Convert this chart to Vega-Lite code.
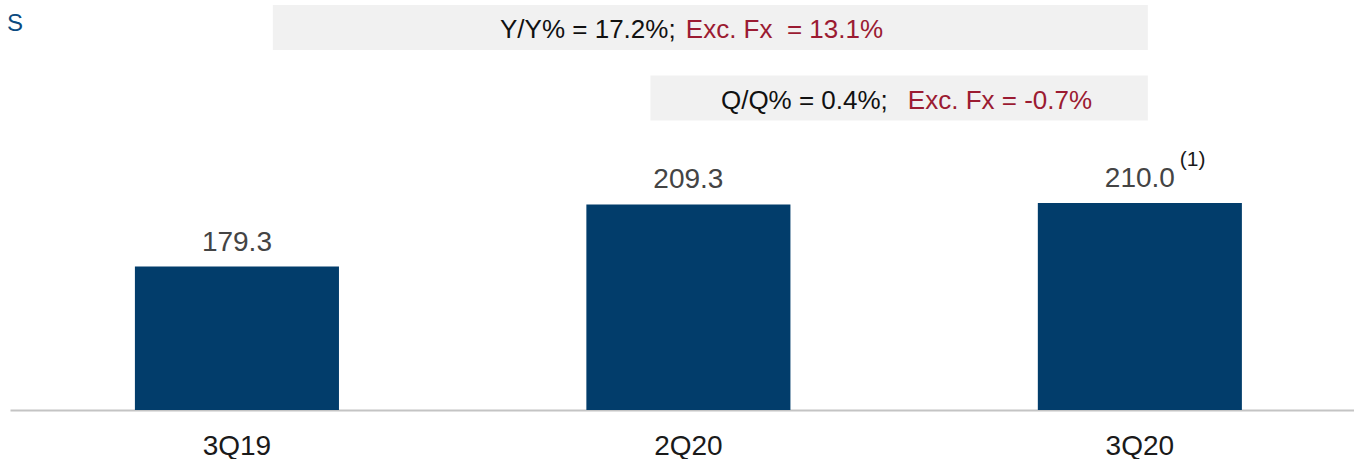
{
  "$schema": "https://vega.github.io/schema/vega-lite/v6.json",
  "width": 1344,
  "height": 410,
  "autosize": {"type": "none"},
  "padding": {"left": 10, "top": 0, "right": 0, "bottom": 49},
  "background": "white",
  "config": {
    "view": {"stroke": null},
    "font": "Liberation Sans",
    "axisX": {
      "ticks": false,
      "tickSize": 0,
      "labelPadding": 44,
      "labelBaseline": "alphabetic",
      "labelFontSize": 28,
      "labelColor": "#1a1a1a",
      "labelFont": "Liberation Sans",
      "labelAngle": 0,
      "domainColor": "#c4c4c4",
      "domainWidth": 2,
      "grid": false
    }
  },
  "title": {
    "text": "S",
    "anchor": "start",
    "orient": "top",
    "offset": -36,
    "dx": -3,
    "fontSize": 24,
    "fontWeight": "normal",
    "color": "#0b4a80",
    "font": "Liberation Sans"
  },
  "layer": [
    {
      "data": {
        "values": [
          {"q": "3Q19", "v": 179.3, "label": "179.3", "note": ""},
          {"q": "2Q20", "v": 209.3, "label": "209.3", "note": ""},
          {"q": "3Q20", "v": 210.0, "label": "210.0", "note": "(1)"}
        ]
      },
      "encoding": {
        "x": {
          "field": "q",
          "type": "nominal",
          "sort": null,
          "scale": {"domain": ["3Q19", "2Q20", "3Q20"], "paddingInner": 0.548, "paddingOuter": 0.2625, "align": 0.527},
          "axis": {"title": null}
        },
        "y": {"field": "v", "type": "quantitative", "scale": {"domain": [110, 308], "zero": false, "clamp": true}, "axis": null}
      },
      "layer": [
        {"mark": {"type": "bar", "color": "#023d6b"}},
        {"mark": {"type": "text", "baseline": "alphabetic", "dy": -16, "fontSize": 28, "color": "#444444"}, "encoding": {"text": {"field": "label"}}},
        {"mark": {"type": "text", "align": "left", "baseline": "alphabetic", "dy": -37, "fontSize": 21, "color": "#1a1a1a"},
         "encoding": {"x": {"field": "q", "type": "nominal", "sort": null, "bandPosition": 0.696, "scale": {"domain": ["3Q19", "2Q20", "3Q20"]}, "axis": {"title": null}}, "text": {"field": "note"}}}
      ]
    },
    {
      "data": {
        "values": [
          {"row": "Y/Y", "from": "3Q19", "to": "3Q20", "main": "Y/Y% = 17.2%;", "fx": "Exc. Fx\u00a0 = 13.1%"},
          {"row": "Q/Q", "from": "2Q20", "to": "3Q20", "main": "Q/Q% = 0.4%;", "fx": "Exc. Fx = -0.7%"}
        ]
      },
      "encoding": {
        "y": {"field": "row", "type": "nominal", "sort": null, "scale": {"domain": ["Y/Y", "Q/Q"], "range": [5, 120.5], "paddingInner": 0.362, "paddingOuter": 0}, "axis": null}
      },
      "layer": [
        {
          "transform": [{"filter": "datum.row === 'Y/Y'"}],
          "mark": {"type": "rect", "color": "#f1f1f1"},
          "encoding": {
            "x": {"field": "from", "type": "nominal", "sort": null, "bandPosition": 0.676, "scale": {"domain": ["3Q19", "2Q20", "3Q20"]}, "axis": {"title": null}},
            "x2": {"field": "to", "bandPosition": 0.539}
          }
        },
        {
          "transform": [{"filter": "datum.row === 'Q/Q'"}],
          "mark": {"type": "rect", "color": "#f1f1f1"},
          "encoding": {
            "x": {"field": "from", "type": "nominal", "sort": null, "bandPosition": 0.314, "scale": {"domain": ["3Q19", "2Q20", "3Q20"]}, "axis": {"title": null}},
            "x2": {"field": "to", "bandPosition": 0.539}
          }
        },
        {
          "transform": [{"filter": "datum.row === 'Y/Y'"}],
          "mark": {"type": "text", "align": "right", "baseline": "alphabetic", "dy": 11, "fontSize": 26, "color": "#111111"},
          "encoding": {
            "x": {"field": "to", "type": "nominal", "sort": null, "bandPosition": -1.775, "scale": {"domain": ["3Q19", "2Q20", "3Q20"]}, "axis": {"title": null}},
            "text": {"field": "main"}
          }
        },
        {
          "transform": [{"filter": "datum.row === 'Y/Y'"}],
          "mark": {"type": "text", "align": "left", "baseline": "alphabetic", "dy": 11, "fontSize": 26, "color": "#9b1b32"},
          "encoding": {
            "x": {"field": "to", "type": "nominal", "sort": null, "bandPosition": -1.725, "scale": {"domain": ["3Q19", "2Q20", "3Q20"]}, "axis": {"title": null}},
            "text": {"field": "fx"}
          }
        },
        {
          "transform": [{"filter": "datum.row === 'Q/Q'"}],
          "mark": {"type": "text", "align": "right", "baseline": "alphabetic", "dy": 11, "fontSize": 26, "color": "#111111"},
          "encoding": {
            "x": {"field": "to", "type": "nominal", "sort": null, "bandPosition": -0.735, "scale": {"domain": ["3Q19", "2Q20", "3Q20"]}, "axis": {"title": null}},
            "text": {"field": "main"}
          }
        },
        {
          "transform": [{"filter": "datum.row === 'Q/Q'"}],
          "mark": {"type": "text", "align": "left", "baseline": "alphabetic", "dy": 11, "fontSize": 26, "color": "#9b1b32"},
          "encoding": {
            "x": {"field": "to", "type": "nominal", "sort": null, "bandPosition": -0.637, "scale": {"domain": ["3Q19", "2Q20", "3Q20"]}, "axis": {"title": null}},
            "text": {"field": "fx"}
          }
        }
      ]
    }
  ],
  "resolve": {"scale": {"y": "independent"}}
}
